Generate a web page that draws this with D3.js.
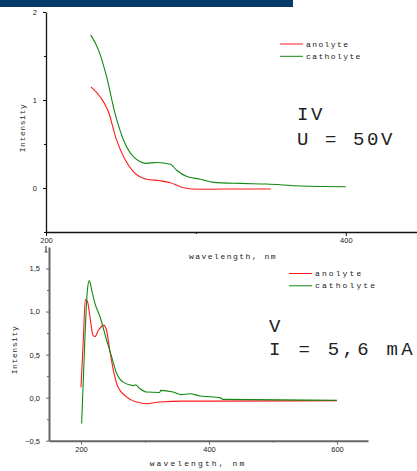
<!DOCTYPE html>
<html>
<head>
<meta charset="utf-8">
<script src="https://cdn.jsdelivr.net/npm/d3@7"></script>
<style>
  body { margin: 0; background: #fff; }
  svg { display: block; }
  .tick text { font-family: "Liberation Sans", Arial, sans-serif; font-size: 7.5px; fill: #222; }
  .mono { font-family: "Liberation Mono", "Courier New", monospace; fill: #222; }
</style>
</head>
<body>
<svg id="chart" width="417" height="471"></svg>
<script>
// top panel (IV, U = 50V)
var topAnoWl = [230, 236, 241.6, 247, 252.8, 258.3, 267, 276, 283, 291.7, 303, 320, 350];
var topAnoI  = [1.15, 1.04, 0.87, 0.55, 0.32, 0.185, 0.10, 0.083, 0.06, 0.003, -0.015, -0.012, -0.012];
var topCatWl = [229.8, 235, 240.5, 246, 251.7, 258.3, 267, 274, 283, 287, 294, 303, 311.8, 330, 347, 370, 400];
var topCatI  = [1.74, 1.57, 1.26, 0.85, 0.545, 0.356, 0.28, 0.29, 0.27, 0.205, 0.13, 0.10, 0.064, 0.052, 0.045, 0.023, 0.015];

// bottom panel (V, I = 5,6 mA)
var botAnoWl = [200, 203.6, 206.8, 210, 214, 219, 222, 227, 236, 240, 245, 250.5, 258, 271, 292, 302, 323, 360, 400, 600];
var botAnoI  = [0.12, 0.67, 1.14, 1.12, 0.94, 0.72, 0.71, 0.78, 0.84, 0.78, 0.55, 0.32, 0.12, 0.01, -0.06, -0.07, -0.05, -0.04, -0.04, -0.035];
var botCatWl = [201, 206, 210, 213, 216.7, 222, 229.7, 240, 248, 255.8, 266, 282, 285, 292, 302.6, 323, 324.5, 344, 357, 370, 386, 401.5, 417, 422, 600];
var botCatI  = [-0.30, 0.67, 1.25, 1.36, 1.25, 1.09, 0.94, 0.67, 0.47, 0.28, 0.18, 0.14, 0.15, 0.105, 0.065, 0.06, 0.085, 0.065, 0.035, 0.046, 0.02, 0.01, 0.0, -0.02, -0.03];

var topXTicks = [200, 400];
var topYTicks = [0, 1, 2];
var botXTicks = [200, 400, 600];
var botYTicks = [-0.5, 0, 0.5, 1, 1.5];
var seriesNames = ["anolyte", "catholyte"];

var red = "#ff1a1a", green = "#118811";
var svg = d3.select("#chart");
var comma = function (d) { return d3.format(".1f")(d).replace(".", ","); };

// header strip
svg.append("rect").attr("x", 0).attr("y", 0).attr("width", 293).attr("height", 7).attr("fill", "#07386a");

function zip(xs, ys) { return xs.map(function (d, i) { return [d, ys[i]]; }); }

function panel(o) {
  var x = d3.scaleLinear().domain(o.xDom).range(o.xRange);
  var y = d3.scaleLinear().domain(o.yDom).range(o.yRange);
  var g = svg.append("g");

  // minor ticks
  g.append("g").attr("transform", "translate(0," + o.yRange[0] + ")")
    .call(d3.axisBottom(x).tickValues(o.xMinor).tickSize(2).tickFormat(""))
    .call(function (s) { s.select(".domain").remove(); s.selectAll("line").attr("stroke", o.axisColor); });
  g.append("g").attr("transform", "translate(" + o.xRange[0] + ",0)")
    .call(d3.axisLeft(y).tickValues(o.yMinor).tickSize(2).tickFormat(""))
    .call(function (s) { s.select(".domain").remove(); s.selectAll("line").attr("stroke", o.axisColor); });

  var xa = g.append("g").attr("transform", "translate(0," + o.yRange[0] + ")")
    .call(d3.axisBottom(x).tickValues(o.xTicks).tickSize(4).tickSizeOuter(0).tickPadding(2));
  var ya = g.append("g").attr("transform", "translate(" + o.xRange[0] + ",0)")
    .call(d3.axisLeft(y).tickValues(o.yTicks).tickSize(3).tickSizeOuter(0).tickPadding(6).tickFormat(o.yFmt));
  [xa, ya].forEach(function (a) {
    a.select(".domain").attr("stroke", o.axisColor).attr("stroke-width", o.axisWidth);
    a.selectAll(".tick line").attr("stroke", o.axisColor);
  });

  var line = d3.line().x(function (d) { return x(d[0]); }).y(function (d) { return y(d[1]); })
    .curve(d3.curveMonotoneX);
  g.append("path").datum(zip(o.anoWl, o.anoI)).attr("d", line)
    .attr("fill", "none").attr("stroke", red).attr("stroke-width", 1.1);
  g.append("path").datum(zip(o.catWl, o.catI)).attr("d", line)
    .attr("fill", "none").attr("stroke", green).attr("stroke-width", 1.1);

  // legend
  seriesNames.forEach(function (n, i) {
    var ly = o.legY + i * 12.3;
    g.append("line").attr("x1", o.legX).attr("x2", o.legX + 23).attr("y1", ly).attr("y2", ly)
      .attr("stroke", i === 0 ? red : green).attr("stroke-width", 1);
    g.append("text").attr("class", "mono").attr("x", o.legX + 26).attr("y", ly + 2.5)
      .style("font-size", "8px").style("letter-spacing", o.legSpace + "px").text(n);
  });

  // axis titles
  g.append("text").attr("class", "mono").attr("x", o.xLabX).attr("y", o.xLabY).attr("text-anchor", "middle")
    .style("font-size", "8px").style("letter-spacing", o.xLabSpace + "px").text("wavelength, nm");
  g.append("text").attr("class", "mono")
    .attr("transform", "translate(" + o.yLabX + "," + o.yLabY + ") rotate(-90)")
    .attr("text-anchor", "middle").style("font-size", "8px").style("letter-spacing", "0.6px").text("Intensity");

  // annotation
  o.note.forEach(function (t, i) {
    g.append("text").attr("class", "mono").attr("x", o.noteX).attr("y", o.noteY[i])
      .style("font-size", "19px").style("letter-spacing", o.noteSpace + "px").text(t);
  });
  return { x: x, y: y };
}

var topPanel = panel({
  xDom: [200, 447.5], xRange: [46, 417], yDom: [-0.5, 2], yRange: [232, 12],
  xTicks: topXTicks, xMinor: [300], yTicks: topYTicks, yMinor: [-0.5, 0.5, 1.5],
  yFmt: d3.format("d"), axisColor: "#111", axisWidth: 1.3,
  anoWl: topAnoWl, anoI: topAnoI, catWl: topCatWl, catI: topCatI,
  legX: 280, legY: 44, legSpace: 1.4,
  xLabX: 233, xLabY: 259, xLabSpace: 1.5, yLabX: 25, yLabY: 128,
  note: ["IV", "U = 50V"], noteX: 297, noteY: [120, 145], noteSpace: 2.6
});

// stray tick mark under the first top-axis label
var x200 = topPanel.x(200);
svg.append("line").attr("x1", x200).attr("x2", x200).attr("y1", 246).attr("y2", 252)
  .attr("stroke", "#222").attr("stroke-width", 1);
svg.append("line").attr("x1", x200 - 1.5).attr("x2", x200 + 1.5).attr("y1", 252).attr("y2", 252)
  .attr("stroke", "#222").attr("stroke-width", 0.8);

panel({
  xDom: [150, 648.5], xRange: [49, 368], yDom: [-0.5, 1.75], yRange: [440.7, 247],
  xTicks: botXTicks, xMinor: [300, 500], yTicks: botYTicks, yMinor: [-0.25, 0.25, 0.75, 1.25],
  yFmt: comma, axisColor: "#666", axisWidth: 2,
  anoWl: botAnoWl, anoI: botAnoI, catWl: botCatWl, catI: botCatI,
  legX: 289, legY: 273.5, legSpace: 2.1,
  xLabX: 198, xLabY: 466, xLabSpace: 2.1, yLabX: 17, yLabY: 350,
  note: ["V", "I = 5,6 mA"], noteX: 269, noteY: [332, 355], noteSpace: 3.3
});
</script>
</body>
</html>
